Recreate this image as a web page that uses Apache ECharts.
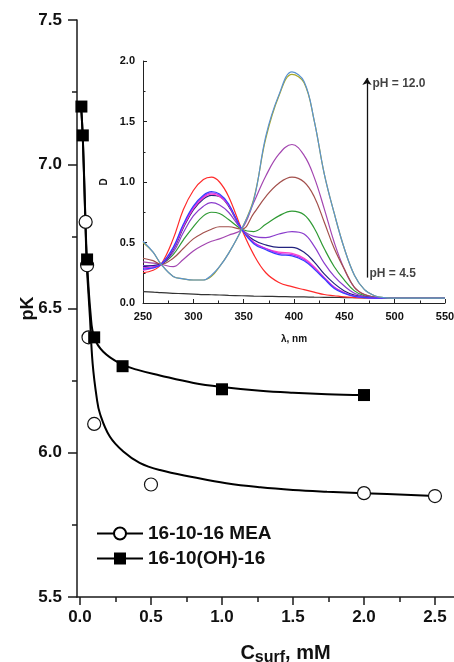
<!DOCTYPE html>
<html><head><meta charset="utf-8">
<script src="https://cdn.jsdelivr.net/npm/echarts@6/dist/echarts.min.js"></script>
<style>html,body{margin:0;padding:0;background:#fff}#c{width:454px;height:662px}</style>
</head><body><div id="c"></div>
<script>
// ---- main chart data ----
const mainXTicks = [0, 0.5, 1.0, 1.5, 2.0, 2.5];
const mainXMinor = [0.25, 0.75, 1.25, 1.75, 2.25];
const meaName = '16-10-16 MEA';
const ohName = '16-10(OH)-16';
const meaPoints = [[0.04,6.80],[0.05,6.65],[0.06,6.40],[0.10,6.10],[0.50,5.89],[2.00,5.86],[2.50,5.85]];
const ohPoints  = [[0.01,7.20],[0.02,7.10],[0.05,6.67],[0.10,6.40],[0.30,6.30],[1.00,6.22],[2.00,6.20]];
const meaFit = [[0.008,7.20],[0.02,7.09],[0.035,6.86],[0.047,6.66],[0.06,6.55],[0.07,6.47],[0.089,6.31],[0.118,6.19],[0.141,6.135],[0.21,6.056],[0.305,6.004],[0.42,5.965],[0.563,5.94],[0.80,5.915],[1.03,5.894],[1.27,5.88],[1.50,5.871],[1.74,5.865],[2.00,5.86],[2.50,5.85]];
const ohFit  = [[0.008,7.20],[0.02,7.09],[0.035,6.85],[0.05,6.66],[0.075,6.48],[0.10,6.40],[0.164,6.35],[0.28,6.31],[0.40,6.288],[0.563,6.268],[0.80,6.242],[1.00,6.228],[1.27,6.215],[1.50,6.208],[1.74,6.203],[2.00,6.20]];

// ---- inset spectra data ----
const wavelengths = [250,260,268,280,290,300,310,318,326,335,348,360,372,385,398,410,420,430,440,450,460,470,480,490,500,525,550];
const specRed    = [0.25,0.27,0.32,0.53,0.77,0.93,1.02,1.04,1.00,0.88,0.61,0.40,0.25,0.17,0.135,0.11,0.09,0.07,0.06,0.05,0.045,0.042,0.04,0.04,0.04,0.04,0.04];
const specBlue   = [0.28,0.29,0.32,0.46,0.65,0.80,0.89,0.92,0.90,0.82,0.61,0.49,0.44,0.40,0.39,0.35,0.28,0.20,0.12,0.08,0.055,0.045,0.04,0.04,0.04,0.04,0.04];
const specMagenta= [0.29,0.30,0.32,0.45,0.64,0.79,0.88,0.91,0.89,0.81,0.61,0.50,0.45,0.41,0.40,0.36,0.29,0.21,0.13,0.085,0.057,0.046,0.04,0.04,0.04,0.04,0.04];
const specPink   = [0.27,0.29,0.32,0.45,0.63,0.78,0.87,0.90,0.88,0.81,0.61,0.50,0.45,0.42,0.41,0.37,0.30,0.21,0.13,0.085,0.057,0.046,0.04,0.04,0.04,0.04,0.04];
const specNavy   = [0.30,0.31,0.32,0.44,0.62,0.77,0.86,0.89,0.88,0.80,0.61,0.52,0.48,0.46,0.46,0.42,0.34,0.24,0.16,0.10,0.065,0.048,0.042,0.04,0.04,0.04,0.04];
const specViolet = [0.31,0.31,0.32,0.42,0.58,0.72,0.80,0.83,0.81,0.75,0.61,0.55,0.54,0.57,0.59,0.57,0.47,0.33,0.22,0.14,0.08,0.055,0.045,0.04,0.04,0.04,0.04];
const specGreen  = [0.30,0.31,0.32,0.40,0.52,0.63,0.72,0.75,0.74,0.69,0.61,0.59,0.65,0.72,0.76,0.73,0.62,0.45,0.30,0.19,0.10,0.06,0.045,0.04,0.04,0.04,0.04];
const specBrown  = [0.37,0.35,0.32,0.37,0.45,0.53,0.58,0.61,0.63,0.63,0.61,0.74,0.88,0.99,1.04,1.00,0.88,0.67,0.45,0.28,0.13,0.07,0.05,0.04,0.04,0.04,0.04];
const specPlum   = [0.34,0.33,0.32,0.30,0.36,0.43,0.48,0.51,0.53,0.56,0.61,0.83,1.05,1.23,1.31,1.22,1.04,0.78,0.50,0.28,0.13,0.07,0.05,0.04,0.04,0.04,0.04];
const specOlive  = [0.50,0.42,0.32,0.22,0.20,0.19,0.19,0.22,0.30,0.41,0.61,0.86,1.36,1.71,1.89,1.82,1.51,1.07,0.74,0.45,0.23,0.11,0.06,0.045,0.04,0.04,0.04];
const specSteel  = [0.51,0.42,0.32,0.22,0.20,0.19,0.19,0.23,0.30,0.41,0.61,0.85,1.38,1.72,1.91,1.83,1.51,1.07,0.74,0.45,0.23,0.11,0.06,0.045,0.04,0.04,0.04];
const specBlack  = [0.094,0.09,0.085,0.08,0.077,0.074,0.07,0.068,0.066,0.063,0.06,0.057,0.055,0.053,0.051,0.05,0.048,0.047,0.046,0.045,0.044,0.043,0.042,0.041,0.04,0.04,0.04];
const phArrow = [[472.5,0.21],[472.5,1.86]];
const phLabels = [[478,1.816,'pH = 12.0'],[475,0.245,'pH = 4.5']];

const FONT = "'Liberation Sans', Arial, sans-serif";
const spectra = [
  ['black', specBlack, '#333333'],
  ['red', specRed, '#ff2a2a'],
  ['plum', specPlum, '#a346b0'],
  ['brown', specBrown, '#a3504c'],
  ['green', specGreen, '#2f9a34'],
  ['violet', specViolet, '#8a3ccc'],
  ['navy', specNavy, '#23237f'],
  ['pink', specPink, '#ff44c8'],
  ['magenta', specMagenta, '#c52bef'],
  ['blue', specBlue, '#3440ff'],
  ['olive', specOlive, '#a8a82a'],
  ['steel', specSteel, '#5b92cf']
];
const zip = (xs, ys) => xs.map((x, i) => [x, ys[i]]);

const chart = echarts.init(document.getElementById('c'), null, {renderer: 'canvas'});
const axisLineStyle = {color: '#1a1a1a', width: 1.5};
const option = {
  animation: false,
  backgroundColor: '#ffffff',
  textStyle: {fontFamily: FONT},
  grid: [
    {left: 77, right: 0, top: 20, bottom: 65, containLabel: false, outerBoundsMode: 'none'},
    {left: 143, top: 61, width: 302, height: 242, containLabel: false, outerBoundsMode: 'none'}
  ],
  xAxis: [
    {gridIndex: 0, type: 'value', min: -0.021, max: 2.634, position: 'bottom',
     axisLine: {show: true, onZero: false, lineStyle: axisLineStyle},
     axisTick: {show: true, inside: false, length: 8, customValues: mainXTicks, lineStyle: axisLineStyle},
     axisLabel: {show: true, customValues: mainXTicks, margin: 12, formatter: v => v.toFixed(1),
       color: '#111', fontSize: 17, fontWeight: 'bold', fontFamily: FONT},
     splitLine: {show: false},
     name: '{a|C}{b|surf}{a|, mM}', nameLocation: 'middle', nameGap: 43, nameMoveOverlap: false,
     nameTextStyle: {padding: [0, 0, 0, 40], rich: {
       a: {fontSize: 20, fontWeight: 'bold', fontFamily: FONT, color: '#111'},
       b: {fontSize: 16, fontWeight: 'bold', fontFamily: FONT, color: '#111', padding: [10, 0, 0, 0]}
     }}
    },
    {gridIndex: 0, type: 'value', min: -0.021, max: 2.634, position: 'bottom',
     axisLine: {show: false, onZero: false},
     axisTick: {show: true, inside: false, length: 5, customValues: mainXMinor, lineStyle: axisLineStyle},
     axisLabel: {show: false}, splitLine: {show: false}},
    {gridIndex: 1, type: 'value', min: 250, max: 550, interval: 50,
     axisLine: {show: true, onZero: false, lineStyle: {color: '#222', width: 1}},
     axisTick: {show: true, inside: true, length: 4, lineStyle: {color: '#222', width: 1}},
     minorTick: {show: true, splitNumber: 2, length: 2.5, lineStyle: {color: '#222', width: 1}},
     axisLabel: {margin: 8, color: '#111', fontSize: 11, fontWeight: 'bold', fontFamily: FONT},
     splitLine: {show: false},
     name: 'λ, nm', nameLocation: 'middle', nameGap: 31, nameMoveOverlap: false,
     nameTextStyle: {fontSize: 10, fontWeight: 'bold', color: '#111', fontFamily: FONT}
    }
  ],
  yAxis: [
    {gridIndex: 0, type: 'value', min: 5.5, max: 7.5, interval: 0.5,
     axisLine: {show: true, onZero: false, lineStyle: axisLineStyle},
     axisTick: {show: true, inside: false, length: 9, lineStyle: axisLineStyle},
     minorTick: {show: true, splitNumber: 2, length: 5, lineStyle: axisLineStyle},
     axisLabel: {margin: 15, formatter: v => v.toFixed(1), color: '#111', fontSize: 17, fontWeight: 'bold', fontFamily: FONT},
     splitLine: {show: false},
     name: 'pK', nameLocation: 'middle', nameGap: 40, nameRotate: 90, nameMoveOverlap: false,
     nameTextStyle: {fontSize: 18, fontWeight: 'bold', color: '#111', fontFamily: FONT}
    },
    {gridIndex: 1, type: 'value', min: 0, max: 2, interval: 0.5,
     axisLine: {show: true, onZero: false, lineStyle: {color: '#222', width: 1}},
     axisTick: {show: true, inside: true, length: 4, lineStyle: {color: '#222', width: 1}},
     minorTick: {show: true, splitNumber: 2, length: 2.5, lineStyle: {color: '#222', width: 1}},
     axisLabel: {margin: 8, formatter: v => v.toFixed(1), color: '#111', fontSize: 11, fontWeight: 'bold', fontFamily: FONT},
     splitLine: {show: false},
     name: 'D', nameLocation: 'middle', nameGap: 34, nameRotate: 90,
     nameTextStyle: {fontSize: 10, fontWeight: 'bold', color: '#111', fontFamily: FONT}
    }
  ],
  legend: {
    orient: 'vertical', left: 91, top: 519, itemWidth: 46, itemHeight: 15, itemGap: 6,
    data: [meaName, ohName],
    textStyle: {fontSize: 19, fontWeight: 'bold', color: '#111', fontFamily: FONT, padding: [0,0,0,0]}
  },
  series: []
};

// fitted curves (legend entries)
option.series.push({
  name: meaName, type: 'line', xAxisIndex: 0, yAxisIndex: 0, data: meaFit,
  smooth: 0.4, symbol: 'circle', symbolSize: 13, showSymbol: false,
  lineStyle: {color: '#000', width: 2}, itemStyle: {color: '#fff', borderColor: '#000', borderWidth: 1.2}, z: 3
});
option.series.push({
  name: ohName, type: 'line', xAxisIndex: 0, yAxisIndex: 0, data: ohFit,
  smooth: 0.4, symbol: 'rect', symbolSize: 12, showSymbol: false,
  lineStyle: {color: '#000', width: 2}, itemStyle: {color: '#000'}, z: 3
});
option.series.push({
  name: meaName + ' pts', type: 'scatter', xAxisIndex: 0, yAxisIndex: 0, data: meaPoints,
  symbol: 'circle', symbolSize: 13, itemStyle: {color: '#fff', borderColor: '#111', borderWidth: 1.2, opacity: 1}, z: 5
});
option.series.push({
  name: ohName + ' pts', type: 'scatter', xAxisIndex: 0, yAxisIndex: 0, data: ohPoints,
  symbol: 'rect', symbolSize: 12, itemStyle: {color: '#000', opacity: 1}, z: 6
});

// inset spectra
spectra.forEach(([nm, vals, col]) => {
  option.series.push({
    name: nm, type: 'line', xAxisIndex: 2, yAxisIndex: 1, data: zip(wavelengths, vals),
    smooth: 0.4, showSymbol: false, symbol: 'none',
    lineStyle: {color: col, width: 1.2}, z: 2
  });
});

// pH arrow and labels
option.series.push({
  name: 'phArrow', type: 'line', xAxisIndex: 2, yAxisIndex: 1, data: [], silent: true,
  markLine: {silent: true, symbol: ['none', 'arrow'], symbolSize: 7, animation: false,
    label: {show: false}, lineStyle: {color: '#111', width: 1.3, type: 'solid'},
    data: [[{coord: phArrow[0]}, {coord: phArrow[1]}]]}
});
option.series.push({
  name: 'phLabels', type: 'scatter', xAxisIndex: 2, yAxisIndex: 1, data: phLabels, symbolSize: 0, silent: true,
  label: {show: true, position: 'right', distance: 0, formatter: p => p.data[2],
    fontSize: 12, fontWeight: 'bold', color: '#111', fontFamily: FONT}
});

chart.setOption(option);
</script></body></html>
